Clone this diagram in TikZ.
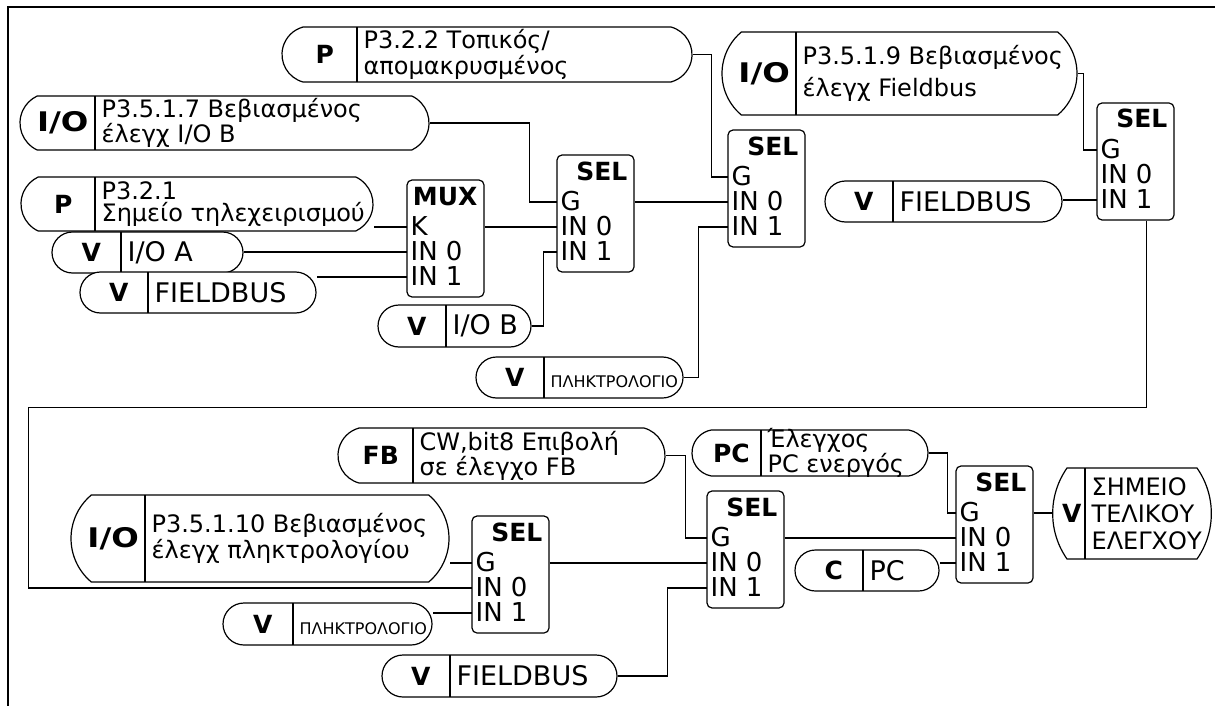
\documentclass[tikz,border=0pt]{standalone}
\usepackage{fontspec}
\setmainfont{DejaVu Sans}
\usetikzlibrary{shapes.misc,backgrounds,calc}

\begin{document}
\begin{tikzpicture}[x=1pt, y=-1pt, line width=1.2pt,
  pill/.style={rounded rectangle, draw, fill=white, inner sep=0pt},
  tag/.style={font=\fontsize{25}{25}\selectfont\bfseries, inner sep=0pt},
  txt/.style={font=\fontsize{24}{22}\selectfont, align=left, inner sep=0pt, anchor=west},
  fnbox/.style={draw, fill=white, rounded corners=5pt, minimum width=77pt, minimum height=117pt, inner sep=0pt},
  boxtitle/.style={font=\fontsize{25}{25}\selectfont\bfseries, inner sep=0pt, anchor=base east},
  port/.style={font=\fontsize{26}{26}\selectfont, inner sep=0pt, anchor=base west},
  wire/.style={line width=1.3pt}]
  \useasboundingbox (0,0) rectangle (1215,706);
  % options, name, left, top, right, bottom, divider, tag, text
  \def\pill#1#2#3#4#5#6#7#8#9{%
    \node[pill, #1, minimum width=#5-#3, minimum height=#6-#4] (#2) at ({(#3+#5)/2}, {(#4+#6)/2}) {};
    \draw (#7,#4) -- (#7,#6);
    \node[tag] (#2-tag) at ({(#3+#7)/2+0.07*(#7-#3)}, {(#4+#6)/2}) {#8};
    \node[txt] (#2-txt) at (#7+6, {(#4+#6)/2}) {#9};
  }
  % name, title, left, top, first port
  \def\selbox#1#2#3#4#5{%
    \node[fnbox] (#1) at (#3+38.5, #4+58.5) {};
    \node[boxtitle] (#1-title) at (#3+71, #4+25) {#2};
    \node[port] (#1-l0) at (#3+3, #4+55) {#5};
    \node[port] (#1-l1) at (#3+3, #4+80) {IN 0};
    \node[port] (#1-l2) at (#3+3, #4+105) {IN 1};
    \coordinate (#1-ctl) at (#3, #4+47);
    \coordinate (#1-in0) at (#3, #4+72);
    \coordinate (#1-in1) at (#3, #4+97);
  }
  \def\kbd{\smash{\raisebox{-10pt}{\fontsize{16}{16}\selectfont ΠΛΗΚΤΡΟΛΟΓΙΟ}}}
  \def\capsz{\fontsize{27}{27}\selectfont}
  \def\io{\scalebox{1.2}[1]{\fontsize{27}{27}\selectfont I/O}}

  \draw[line width=1.5pt] (8,706) -- (8,7) -- (1215,7);

  % upper half
  \pill{rounded rectangle arc length=150}{p322}{282}{27}{692}{82}{357}{P}{P3.2.2 Τοπικός/\\απομακρυσμένος}
  \pill{rounded rectangle arc length=130}{io517}{20}{96}{429}{150}{95}{\io}{P3.5.1.7 Βεβιασμένος\\έλεγχ I/O B}
  \pill{rounded rectangle arc length=130}{p321}{21}{177}{373}{231}{95}{P}{P3.2.1\\Σημείο τηλεχειρισμού}
  \pill{}{vioa}{52}{232}{243}{273}{121}{V}{\capsz I/O A}
  \pill{}{vfb1}{80}{272}{316}{313}{148}{V}{\capsz FIELDBUS}
  \pill{}{viob}{378}{305}{531}{347}{446}{V}{\capsz I/O B}
  \pill{}{vkp1}{476}{357}{683}{398}{544}{V}{\kbd}
  \pill{rounded rectangle arc length=100}{io519}{722}{32}{1077}{115}{796}{\io}{P3.5.1.9 Βεβιασμένος\\[6pt]έλεγχ Fieldbus}
  \pill{}{vfb2}{825}{181}{1062}{222}{893}{V}{\capsz FIELDBUS}

  \selbox{mux}{MUX}{407}{180}{K}
  \selbox{sel1}{SEL}{557}{155}{G}
  \selbox{sel2}{SEL}{728}{130}{G}
  \selbox{sel3}{SEL}{1097}{103}{G}

  % lower half
  \pill{rounded rectangle arc length=150}{fbcw}{338}{428}{665}{483}{413}{FB}{CW,bit8 Επιβολή\\σε έλεγχο FB}
  \pill{rounded rectangle arc length=100}{io5110}{71}{495}{449}{582}{145}{\io}{P3.5.1.10 Βεβιασμένος\\έλεγχ πληκτρολογίου}
  \pill{}{vkp2}{223}{603}{432}{645}{293}{V}{\kbd}
  \pill{}{vfb3}{382}{655}{617}{697}{450}{V}{\capsz FIELDBUS}
  \pill{rounded rectangle arc length=160}{pcact}{692}{430}{928}{476}{761}{PC}{Έλεγχος\\PC ενεργός}
  \pill{}{cpc}{795}{550}{939}{591}{863}{C}{\capsz PC}
  \pill{rounded rectangle arc length=70}{vout}{1054}{468}{1210}{559}{1085}{V}{\fontsize{24}{24}\selectfont ΣΗΜΕΙΟ\\[5pt]\fontsize{24}{24}\selectfont ΤΕΛΙΚΟΥ\\[5pt]\fontsize{24}{24}\selectfont ΕΛΕΓΧΟΥ}

  \selbox{sel4}{SEL}{472}{516}{G}
  \selbox{sel5}{SEL}{707}{491}{G}
  \selbox{sel6}{SEL}{956}{466}{G}

  \begin{scope}[on background layer]
    \draw[wire] (p322.east) -- ++(19,0) |- (sel2-ctl);
    \draw[wire] (io517.east) -- ++(100,0) |- (sel1-ctl);
    \draw[wire] (mux-ctl) -- (mux-ctl -| p321.east);
    \draw[wire] (mux-in0) -- (mux-in0 -| vioa.east);
    \draw[wire] (mux-in1) -- (mux-in1 -| vfb1.east);
    \draw[wire] (mux.east |- mux-ctl) -- (sel1-in0);
    \draw[wire] (viob.east) -- ++(12,0) |- (sel1-in1);
    \draw[wire] (sel1.east |- sel1-ctl) -- (sel2-in0);
    \draw[wire] (vkp1.east) -- ++(15,0) |- (sel2-in1);
    \draw[wire] (io519.east) -- ++(6,0) |- (sel3-ctl);
    \draw[wire] (sel3-in1) -- (sel3-in1 -| vfb2.east);
    \draw[wire] ($(sel3.south west)+(50,0)$) -- ++(0,187) -- ++(-1118,0) |- (sel4-in0);
    \draw[wire] (sel4-ctl) -- (sel4-ctl -| io5110.east);
    \draw[wire] (sel4-in1) -- (sel4-in1 -| vkp2.east);
    \draw[wire] (sel4.east |- sel4-ctl) -- (sel5-in0);
    \draw[wire] (fbcw.east) -- ++(20,0) |- (sel5-ctl);
    \draw[wire] (vfb3.east) -- ++(50,0) |- (sel5-in1);
    \draw[wire] (sel5.east |- sel5-ctl) -- (sel6-in0);
    \draw[wire] (pcact.east) -- ++(19,0) |- (sel6-ctl);
    \draw[wire] (sel6-in1) -- (sel6-in1 -| cpc.east);
    \draw[wire] (sel6.east |- sel6-ctl) -- (sel6-ctl -| vout.west);
  \end{scope}
\end{tikzpicture}
\end{document}
